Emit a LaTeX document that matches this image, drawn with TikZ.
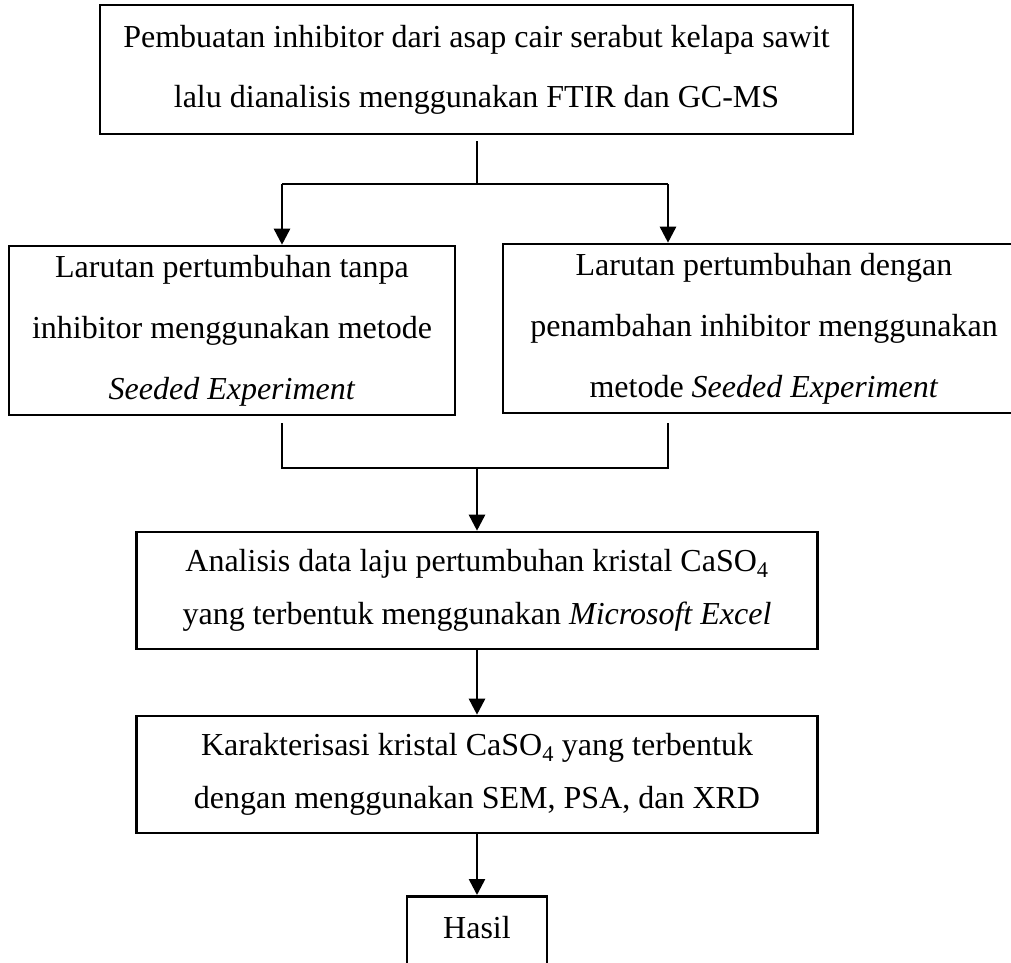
\documentclass[tikz,border=0pt]{standalone}
\usepackage{fontspec}
\setmainfont{Liberation Serif}
\usetikzlibrary{arrows.meta}
\tikzset{
  box/.style={draw, line width=2.6pt, inner sep=0pt, align=center},
  bigfont/.style={font=\fontsize{32}{60}\selectfont},
  midfont/.style={font=\fontsize{32}{61}\selectfont},
  smallfont/.style={font=\fontsize{32}{53}\selectfont},
  conn/.style={line width=2.6pt, line join=miter},
  arr/.style={conn, -{Triangle[width=16pt,length=16pt]}},
}
\begin{document}
\begin{tikzpicture}[x=1pt,y=-1pt]
\useasboundingbox (0,0) rectangle (1011,962);
\clip (0,0) rectangle (1011,962);
\node[box, bigfont, minimum width=753pt, minimum height=129pt] (b1) at (476.5,69.5)
  {Pembuatan inhibitor dari asap cair serabut kelapa sawit\\lalu dianalisis menggunakan FTIR dan GC-MS};
\node[box, midfont, minimum width=446pt, minimum height=169pt] (b2) at (232,330.5)
  {Larutan pertumbuhan tanpa\\inhibitor menggunakan metode\\\textit{Seeded Experiment}};
\node[box, midfont, minimum width=522pt, minimum height=169pt] (b3) at (764,328.5)
  {Larutan pertumbuhan dengan\\penambahan inhibitor menggunakan\\metode \textit{Seeded Experiment}};
\node[box, smallfont, minimum width=681pt, minimum height=117pt] (b4) at (477,590.5)
  {Analisis data laju pertumbuhan kristal CaSO\textsubscript{4}\\yang terbentuk menggunakan \textit{Microsoft Excel}};
\node[box, smallfont, minimum width=681pt, minimum height=117pt] (b5) at (477,774.5)
  {Karakterisasi kristal CaSO\textsubscript{4} yang terbentuk\\dengan menggunakan SEM, PSA, dan XRD};
\node[box, font=\fontsize{32}{40}\selectfont, minimum width=140pt, text height=42pt, text depth=63pt, anchor=north] (b6) at (477,895) {Hasil};
% top split
\coordinate (t1) at (477,141);
\coordinate (t2) at (477,184);
\coordinate (tl) at (282,184);
\coordinate (tr) at (668,184);
\draw[conn] (t1) -- (t2);
\draw[conn] (tl) -- (tr);
\draw[arr] (tl) -- (tl |- b2.north);
\draw[arr] (tr) -- (tr |- b3.north);
% merge
\coordinate (l1) at (282,423);
\coordinate (r1) at (668,423);
\coordinate (lb) at (282,468);
\coordinate (rb) at (668,468);
\coordinate (mb) at (477,468);
\draw[conn] (l1) -- (lb) -- (rb) -- (r1);
\draw[arr] (mb) -- (b4.north);
\draw[arr] (b4.south) -- (b5.north);
\draw[arr] (b5.south) -- (b6.north);
\end{tikzpicture}
\end{document}
